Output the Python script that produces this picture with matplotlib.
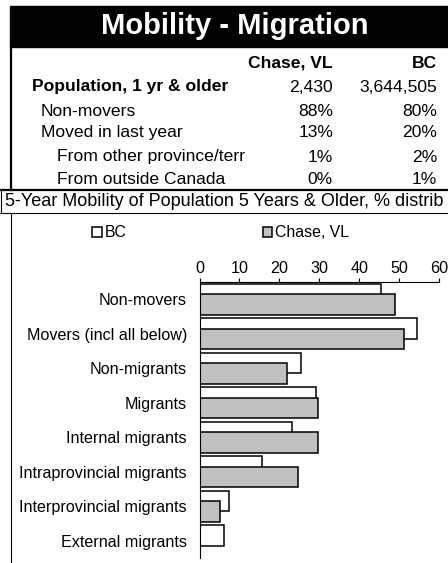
import matplotlib
matplotlib.use("Agg")
import matplotlib.pyplot as plt
from matplotlib.lines import Line2D
from matplotlib.patches import Rectangle

plt.rcParams['font.family'] = ['Liberation Sans', 'DejaVu Sans']

W, H = 448, 563

# table data
row_labels = ["Population, 1 yr & older", "Non-movers", "Moved in last year",
              "From other province/terr", "From outside Canada"]
chase_vals = ["2,430", "88%", "13%", "1%", "0%"]
bc_vals = ["3,644,505", "80%", "20%", "2%", "1%"]

# chart data (% distribution)
categories = ["Non-movers", "Movers (incl all below)", "Non-migrants", "Migrants",
              "Internal migrants", "Intraprovincial migrants",
              "Interprovincial migrants", "External migrants"]
bc_pct = [45.4, 54.6, 25.5, 29.2, 23.1, 15.7, 7.3, 6.2]
chase_pct = [49.0, 51.2, 21.8, 29.6, 29.6, 24.7, 5.1, 0.0]


def fx(x):
    return x / W


def fy(y):
    return 1 - y / H


fig = plt.figure(figsize=(W / 100, H / 100), dpi=100)

# header
fig.add_artist(Rectangle((fx(10), fy(47)), fx(438), 41 / H, color='black',
                         transform=fig.transFigure))
fig.text(fx(235), fy(26), "Mobility - Migration", color='white', fontsize=21,
         fontweight='bold', ha='center', va='center')

# table
fig.text(fx(333), fy(63), "Chase, VL", fontsize=12.6, fontweight='bold', ha='right', va='center')
fig.text(fx(437), fy(63), "BC", fontsize=12.6, fontweight='bold', ha='right', va='center')
row_y = [87, 111, 133, 157, 180]
row_x = [32, 41, 41, 57, 57]
for i, lab in enumerate(row_labels):
    w = 'bold' if i == 0 else 'normal'
    fig.text(fx(row_x[i]), fy(row_y[i]), lab, fontsize=12.6, fontweight=w, ha='left', va='center')
    fig.text(fx(333), fy(row_y[i]), chase_vals[i], fontsize=12.6, ha='right', va='center')
    fig.text(fx(437), fy(row_y[i]), bc_vals[i], fontsize=12.6, ha='right', va='center')

# frame lines
fig.add_artist(Line2D([fx(11), fx(11)], [fy(47), fy(190)], color='black', lw=1.6))
fig.add_artist(Line2D([0, 1], [fy(190), fy(190)], color='black', lw=1.6))
fig.add_artist(Line2D([fx(0.5), fx(0.5)], [fy(190), fy(213)], color='black', lw=0.8))
fig.add_artist(Line2D([0, 1], [fy(213), fy(213)], color='black', lw=0.8))
fig.add_artist(Line2D([fx(11), fx(11)], [fy(213), 0], color='black', lw=0.8))

fig.text(fx(5), fy(202), "5-Year Mobility of Population 5 Years & Older, % distrib",
         fontsize=13.0, ha='left', va='center')

# chart
ax = fig.add_axes([fx(199.5), fy(558), 239.5 / W, 276 / H])
pos = range(len(categories))
b1 = ax.barh([p - 0.15 for p in pos], bc_pct, height=0.6, color='white',
             edgecolor='black', linewidth=1.1, label='BC')
b2 = ax.barh([p + 0.15 for p in pos], chase_pct, height=0.6, color='#c0c0c0',
             edgecolor='black', linewidth=1.1, label='Chase, VL')
for r, v in zip(b2, chase_pct):
    if v == 0:
        r.set_visible(False)
ax.set_xlim(0, 60)
ax.set_ylim(len(categories) - 0.5, -0.5)
ax.set_yticks(list(pos))
ax.set_yticklabels(categories, fontsize=11.6)
ax.set_xticks(range(0, 61, 10))
ax.xaxis.tick_top()
ax.tick_params(axis='x', labelsize=11.6, length=3, width=0.8, pad=1, direction='out')
ax.tick_params(axis='y', length=0, pad=9)
for s in ['right', 'bottom']:
    ax.spines[s].set_visible(False)
ax.spines['top'].set_linewidth(0.8)
ax.spines['left'].set_linewidth(0.8)

fig.legend(handles=[b1, b2], loc='center left', bbox_to_anchor=(fx(92), fy(233)),
           ncol=2, frameon=False, fontsize=11.4, handlelength=0.6, handleheight=0.6,
           handletextpad=0.2, columnspacing=8.6, borderpad=0, borderaxespad=0)

fig.savefig("out.png", dpi=100)
